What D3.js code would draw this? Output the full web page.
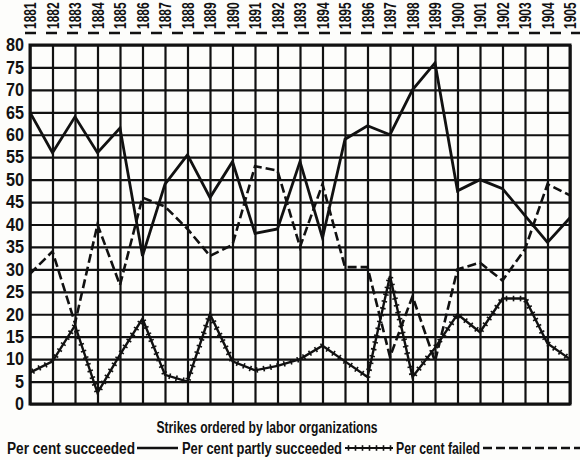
<!DOCTYPE html>
<html><head><meta charset="utf-8">
<script src="https://cdn.jsdelivr.net/npm/d3@7"></script>
<style>
html,body{margin:0;padding:0;background:#fdfdfb;}
svg{display:block;}
text{font-family:"Liberation Sans Narrow","Arial Narrow","Liberation Sans",sans-serif;font-weight:bold;fill:#111;}
</style></head>
<body>
<script>
const years = [1881,1882,1883,1884,1885,1886,1887,1888,1889,1890,1891,1892,1893,1894,1895,1896,1897,1898,1899,1900,1901,1902,1903,1904,1905];
const succeeded = [65,56,64,56,61.5,33,49,55.5,46,54,38,39,54,37,59,62,60,70,76,47.5,50,48,42,36,41.5];
const partly    = [7,9.5,17.5,2.5,11,19,6.5,5,20,9.5,7.5,8.5,10,13,9.5,6,28.5,6,12.5,20,16,23.5,23.5,13.5,10];
const failed    = [29,34,18,40,26.5,46,44,39,33,35.5,53,52,35,49,30.5,30.5,10.5,24,9.5,30,31.5,27.5,34.5,49,46.5];
const yTicks = [0,5,10,15,20,25,30,35,40,45,50,55,60,65,70,75,80];
const title = "Strikes ordered by labor organizations";
const legendLabels = ["Per cent  succeeded","Per cent  partly succeeded","Per cent  failed"];

const W=580,H=460;
const L=30,R=570,T=45,B=404;
const svg=d3.select("body").append("svg").attr("width",W).attr("height",H);
const x=d3.scaleLinear().domain([years[0],years[years.length-1]]).range([L,R]);
const y=d3.scaleLinear().domain([0,80]).range([B,T]);
const ink="#111";

// scan artifact dashed rule at top
svg.append("line").attr("x1",25).attr("x2",580).attr("y1",33).attr("y2",33)
  .attr("stroke",ink).attr("stroke-width",2.5).attr("stroke-dasharray","11,10");

// horizontal grid + y labels
const ya=svg.append("g").attr("transform",`translate(${L},0)`)
  .call(d3.axisLeft(y).tickValues(yTicks).tickSize(-(R-L)).tickPadding(6).tickFormat(d3.format("d")));
ya.select(".domain").remove();
ya.selectAll("line").attr("stroke",ink).attr("stroke-width",2.2);
ya.selectAll("text").attr("font-size",18).attr("font-family",null)
  .attr("textLength",d=>d<10?9:18).attr("lengthAdjust","spacingAndGlyphs");

// vertical grid + year labels
const xa=svg.append("g").attr("transform",`translate(0,${T})`)
  .call(d3.axisTop(x).tickValues(years).tickSize(-(B-T)).tickFormat(d3.format("d")));
xa.select(".domain").remove();
xa.selectAll("line").attr("stroke",ink).attr("stroke-width",2.2);
xa.selectAll("text").attr("font-size",12).attr("font-family",null)
  .attr("text-anchor","start").attr("dy","0.36em")
  .attr("transform","translate(0,-16) rotate(-90) scale(1,1.3)").attr("x",0).attr("y",0);

// border
svg.append("rect").attr("x",L).attr("y",T).attr("width",R-L).attr("height",B-T)
  .attr("fill","none").attr("stroke",ink).attr("stroke-width",3);

const line=d3.line().x((d,i)=>x(years[i])).y(d=>y(d));
svg.append("path").datum(succeeded).attr("d",line).attr("fill","none")
  .attr("stroke",ink).attr("stroke-width",2.8).attr("stroke-linejoin","miter");
svg.append("path").datum(failed).attr("d",line).attr("fill","none")
  .attr("stroke",ink).attr("stroke-width",2.6).attr("stroke-dasharray","9,4");
svg.append("path").datum(partly).attr("d",line).attr("fill","none")
  .attr("stroke",ink).attr("stroke-width",2.4);

// cross ticks along a polyline
function crossTicks(pts, g, step, half){
  let carry=step/2;
  for(let i=0;i<pts.length-1;i++){
    const [x0,y0]=pts[i],[x1,y1]=pts[i+1];
    const len=Math.hypot(x1-x0,y1-y0); if(!len) continue;
    const ux=(x1-x0)/len,uy=(y1-y0)/len, nx=-uy, ny=ux;
    let s=carry;
    while(s<len){
      const px=x0+ux*s,py=y0+uy*s;
      g.append("line").attr("x1",px-nx*half).attr("y1",py-ny*half)
        .attr("x2",px+nx*half).attr("y2",py+ny*half)
        .attr("stroke",ink).attr("stroke-width",1.6);
      s+=step;
    }
    carry=s-len;
  }
}
crossTicks(partly.map((d,i)=>[x(years[i]),y(d)]), svg.append("g"), 7, 2.8);

// title
svg.append("text").attr("x",267).attr("y",433).attr("text-anchor","middle")
  .attr("font-size",16).attr("textLength",221).attr("lengthAdjust","spacingAndGlyphs").text(title);

// legend
const ly=454, lineY=448;
const lg=svg.append("g");
lg.append("text").attr("x",7).attr("y",ly).attr("font-size",16).attr("textLength",128).attr("lengthAdjust","spacingAndGlyphs").text(legendLabels[0]);
lg.append("line").attr("x1",137).attr("x2",178).attr("y1",lineY).attr("y2",lineY).attr("stroke",ink).attr("stroke-width",2.6);
lg.append("text").attr("x",182).attr("y",ly).attr("font-size",16).attr("textLength",160).attr("lengthAdjust","spacingAndGlyphs").text(legendLabels[1]);
lg.append("line").attr("x1",345).attr("x2",393).attr("y1",lineY).attr("y2",lineY).attr("stroke",ink).attr("stroke-width",2.2);
crossTicks([[345,lineY],[393,lineY]], lg, 7, 2.8);
lg.append("text").attr("x",396).attr("y",ly).attr("font-size",16).attr("textLength",84).attr("lengthAdjust","spacingAndGlyphs").text(legendLabels[2]);
lg.append("line").attr("x1",483).attr("x2",580).attr("y1",lineY).attr("y2",lineY).attr("stroke",ink).attr("stroke-width",2.6).attr("stroke-dasharray","9,4");
</script>
</body></html>
